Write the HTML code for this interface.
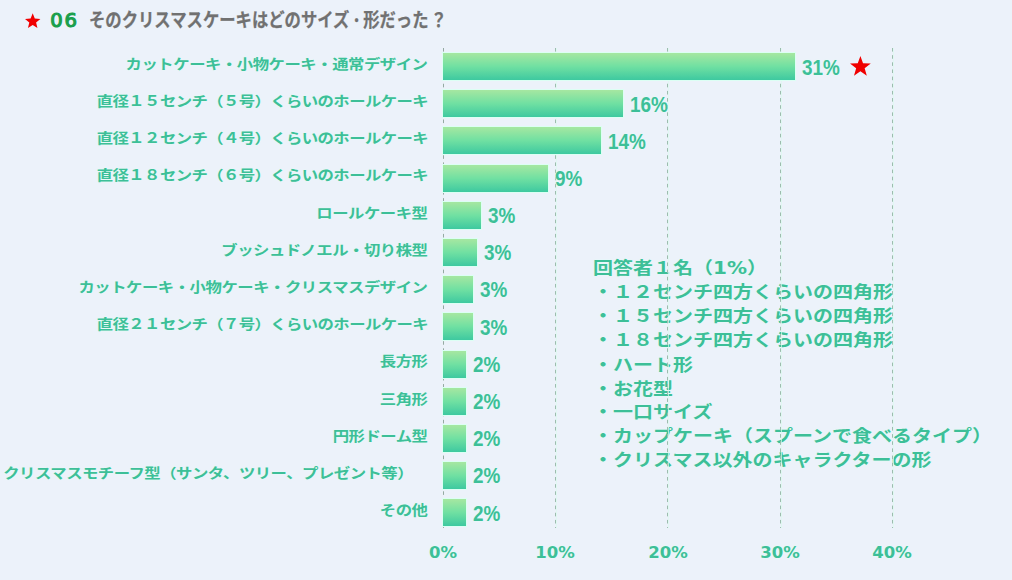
<!DOCTYPE html>
<html lang="ja">
<head>
<meta charset="utf-8">
<style>
html,body{margin:0;padding:0;}
body{width:1012px;height:580px;overflow:hidden;position:relative;background:#ecf2fa;
font-family:"Liberation Sans","Noto Sans CJK JP",sans-serif;}
.abs{position:absolute;}
.lbl,.val,.ax,#note{text-shadow:0 0 1.5px #e2fff6,0 0 1.5px #e2fff6;}
.jp{font-family:"Liberation Sans","Noto Sans CJK JP",sans-serif;font-weight:700;}
#title{left:89px;top:5.8px;font-size:19px;line-height:30px;color:#717171;white-space:nowrap;transform-origin:0 50%;transform:scaleX(0.86);-webkit-text-stroke:0.25px #717171;}
#num{left:50.2px;top:5.8px;font-family:"DejaVu Sans",sans-serif;font-weight:400;font-size:19.6px;letter-spacing:1.8px;-webkit-text-stroke:1.15px #1a9f4c;line-height:30px;color:#1a9f4c;}
.lbl{right:584.5px;font-size:16.4px;line-height:20px;letter-spacing:-0.5px;transform:scaleY(0.85);color:#3dbf98;white-space:nowrap;text-align:right;}
.bar{left:443px;height:27px;background:linear-gradient(#a6e7a1,#70e0a2 50%,#3ec9a0);box-shadow:0 0 0 1px #dcfff4;}
.val{font-family:"Liberation Sans",sans-serif;font-weight:700;font-size:21.5px;line-height:24px;color:#3dbf98;transform-origin:0 50%;transform:scaleX(0.88);white-space:nowrap;}
.ax{top:542.5px;font-family:"DejaVu Sans",sans-serif;font-weight:700;font-size:16.5px;line-height:20px;color:#3dbf98;width:80px;text-align:center;}
#note{left:593px;top:256.7px;font-size:20px;line-height:27.907px;transform-origin:0 0;transform:scaleY(0.86);color:#3dbf98;white-space:nowrap;}
#note .lat{font-family:"DejaVu Sans",sans-serif;}
</style>
</head>
<body>
<svg class="abs" style="left:0;top:0" width="1012" height="580">
 <polygon fill="#f00000" points="32.70,13.30 34.79,18.52 40.40,18.90 36.09,22.50 37.46,27.95 32.70,24.96 27.94,27.95 29.31,22.50 25.00,18.90 30.61,18.52"/>
 <polygon fill="#f00000" points="860.40,56.00 863.03,63.28 870.77,63.53 864.65,68.28 866.81,75.72 860.40,71.37 853.99,75.72 856.15,68.28 850.03,63.53 857.77,63.28"/>
</svg>
<div id="num" class="abs">06</div>
<div id="title" class="abs jp">そのクリスマスケーキはどのサイズ<span style="margin-left:3.5px;margin-right:2.9px;position:relative;top:1.2px">･</span>形だった<span style="margin-left:2.3px">？</span></div>


<div id="note" class="abs jp">回答者１名（<span class="lat">1%</span>）<br>・１２センチ四方くらいの四角形<br>・１５センチ四方くらいの四角形<br>・１８センチ四方くらいの四角形<br>・ハート形<br>・お花型<br>・一口サイズ<br>・カップケーキ（スプーンで食べるタイプ）<br>・クリスマス以外のキャラクターの形</div>
<svg class="abs" style="left:0;top:0" width="1012" height="580">
 <g stroke-width="1" stroke-dasharray="3.6 3.55" fill="none">
  <line x1="443.5" y1="48" x2="443.5" y2="528" stroke="#95aaa2"/>
  <line x1="555.5" y1="48" x2="555.5" y2="528" stroke="#9dbcae"/>
  <line x1="667.5" y1="48" x2="667.5" y2="528" stroke="#9dbcae"/>
  <line x1="780.5" y1="48" x2="780.5" y2="528" stroke="#9dbcae"/>
  <line x1="892.5" y1="48" x2="892.5" y2="528" stroke="#9dbcae"/>
 </g>
 <g stroke-width="1" stroke="#dcfbf0" opacity="0.7">
  <line x1="556.5" y1="48" x2="556.5" y2="528"/>
  <line x1="668.5" y1="48" x2="668.5" y2="528"/>
  <line x1="781.5" y1="48" x2="781.5" y2="528"/>
  <line x1="893.5" y1="48" x2="893.5" y2="528"/>
 </g>
</svg>

<div class="abs lbl jp" style="top:54px">カットケーキ・小物ケーキ・通常デザイン</div>
<div class="abs lbl jp" style="top:91px;letter-spacing:-0.62px;right:584px">直径１５センチ（５号）くらいのホールケーキ</div>
<div class="abs lbl jp" style="top:128px;letter-spacing:-0.62px;right:584px">直径１２センチ（４号）くらいのホールケーキ</div>
<div class="abs lbl jp" style="top:165px;letter-spacing:-0.62px;right:584px">直径１８センチ（６号）くらいのホールケーキ</div>
<div class="abs lbl jp" style="top:203px">ロールケーキ型</div>
<div class="abs lbl jp" style="top:240px">ブッシュドノエル・切り株型</div>
<div class="abs lbl jp" style="top:277px">カットケーキ・小物ケーキ・クリスマスデザイン</div>
<div class="abs lbl jp" style="top:314px;letter-spacing:-0.62px;right:584px">直径２１センチ（７号）くらいのホールケーキ</div>
<div class="abs lbl jp" style="top:351px">長方形</div>
<div class="abs lbl jp" style="top:389px">三角形</div>
<div class="abs lbl jp" style="top:426px">円形ドーム型</div>
<div class="abs lbl jp" style="top:463px;letter-spacing:-0.55px;right:599px">クリスマスモチーフ型（サンタ、ツリー、プレゼント等）</div>
<div class="abs lbl jp" style="top:500px">その他</div>

<div class="abs bar" style="top:53px;width:352px"></div>
<div class="abs bar" style="top:90.2px;width:180px"></div>
<div class="abs bar" style="top:127.4px;width:158px"></div>
<div class="abs bar" style="top:164.6px;width:105px"></div>
<div class="abs bar" style="top:201.8px;width:38px"></div>
<div class="abs bar" style="top:239px;width:34px"></div>
<div class="abs bar" style="top:276.2px;width:30px"></div>
<div class="abs bar" style="top:313.4px;width:30px"></div>
<div class="abs bar" style="top:350.6px;width:23px"></div>
<div class="abs bar" style="top:387.8px;width:23px"></div>
<div class="abs bar" style="top:425px;width:23px"></div>
<div class="abs bar" style="top:462.2px;width:23px"></div>
<div class="abs bar" style="top:499.4px;width:23px"></div>

<div class="abs val" style="left:802px;top:56px">31%</div>
<div class="abs val" style="left:630px;top:93px">16%</div>
<div class="abs val" style="left:608px;top:130px">14%</div>
<div class="abs val" style="left:555px;top:167px">9%</div>
<div class="abs val" style="left:488px;top:204px">3%</div>
<div class="abs val" style="left:484px;top:241px">3%</div>
<div class="abs val" style="left:480px;top:278px">3%</div>
<div class="abs val" style="left:480px;top:316px">3%</div>
<div class="abs val" style="left:473px;top:353px">2%</div>
<div class="abs val" style="left:473px;top:390px">2%</div>
<div class="abs val" style="left:473px;top:427px">2%</div>
<div class="abs val" style="left:473px;top:464px">2%</div>
<div class="abs val" style="left:473px;top:502px">2%</div>

<div class="abs ax" style="left:403px">0%</div>
<div class="abs ax" style="left:515px">10%</div>
<div class="abs ax" style="left:628px">20%</div>
<div class="abs ax" style="left:740px">30%</div>
<div class="abs ax" style="left:852px">40%</div>

</body>
</html>
